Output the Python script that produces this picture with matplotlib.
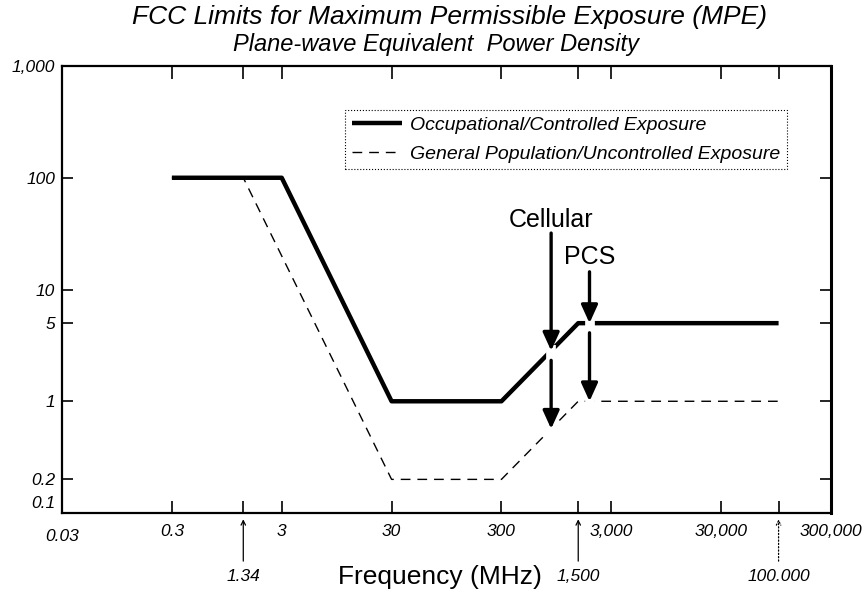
"""
FCC MPE limits, log-log chart -> out.png
"""

import numpy as np
import matplotlib
matplotlib.use("Agg")
import matplotlib.pyplot as plt
from matplotlib.transforms import ScaledTranslation

plt.rcParams['font.family'] = ['Liberation Sans', 'DejaVu Sans']

# frequency in MHz, power density in mW/cm^2
OCC_FREQ = [0.3, 3, 30, 300, 1500, 100000]
OCC_MPE  = [100, 100, 1, 1, 5, 5]
GEN_FREQ = [0.3, 1.34, 30, 300, 1500, 100000]
GEN_MPE  = [100, 100, 0.2, 0.2, 1, 1]

X_TICKS  = [0.03, 0.3, 3, 30, 300, 3000, 30000, 300000]
X_LABELS = ["0.03", "0.3", "3", "30", "300", "3,000", "30,000", "300,000"]
Y_TICKS  = [0.1, 0.2, 1, 5, 10, 100, 1000]
Y_LABELS = ["0.1", "0.2", "1", "5", "10", "100", "1,000"]

BREAK_FREQ   = [1.34, 1500, 100000]
BREAK_LABELS = ["1.34", "1,500", "100.000"]

BANDS     = ["Cellular", "PCS"]
BAND_FREQ = [850, 1900]


def at(freq, xs, ys):
    return 10 ** np.interp(np.log10(freq), np.log10(xs), np.log10(ys))


def main():
    fig = plt.figure(figsize=(8.65, 5.92), dpi=100)
    ax = fig.add_axes([0.0717, 0.1334, 0.889, 0.7551])
    ax.set_xscale("log"); ax.set_yscale("log")
    ax.set_xlim(0.03, 300000); ax.set_ylim(0.1, 1000)

    ax.plot(OCC_FREQ, OCC_MPE, color="black", lw=3.2, solid_capstyle="butt",
            label="Occupational/Controlled Exposure", zorder=2)
    ax.plot(GEN_FREQ, GEN_MPE, color="black", lw=1.0, dashes=(7, 5),
            label="General Population/Uncontrolled Exposure", zorder=2)

    ax.set_xticks(X_TICKS, X_LABELS)
    ax.set_xticks(BREAK_FREQ, [""] * len(BREAK_FREQ), minor=True)
    ax.set_yticks(Y_TICKS, Y_LABELS)
    ax.set_yticks([], minor=True)
    ax.tick_params(axis="both", which="both", direction="in", top=True, right=True,
                   length=9, width=1.2, labelsize=12.5)
    ax.tick_params(axis="x", which="both", pad=8)
    ax.tick_params(axis="y", pad=5, length=8)
    for lbl in ax.get_xticklabels() + ax.get_yticklabels():
        lbl.set_fontstyle("italic")
    for s in ax.spines.values():
        s.set_linewidth(1.6)
    ax.spines["right"].set_linewidth(2.2)

    # 0.1 sits a bit above the corner, 0.03 a bit below
    t = ax.yaxis.get_major_ticks()[0].label1
    t.set_transform(t.get_transform() + ScaledTranslation(0, 11 / 100, fig.dpi_scale_trans))
    t = ax.xaxis.get_major_ticks()[0].label1
    t.set_transform(t.get_transform() + ScaledTranslation(0, -5 / 100, fig.dpi_scale_trans))

    # break points marked under the axis
    xt = ax.get_xaxis_transform()
    for f, lbl in zip(BREAK_FREQ, BREAK_LABELS):
        ax.annotate(lbl, xy=(f, -0.014), xycoords=xt, xytext=(f, -0.143), textcoords=xt,
                    ha="center", va="center", fontsize=12.5, style="italic",
                    arrowprops=dict(arrowstyle="->", lw=0.9, color="black",
                                    shrinkA=4, shrinkB=0, mutation_scale=8,
                                    linestyle=":" if f == 100000 else "-"))

    # band arrows: Cellular / PCS
    text_y  = [42, 19.5]
    start_y = [32, 14.4]
    for name, f, ty, sy in zip(BANDS, BAND_FREQ, text_y, start_y):
        occ = at(f, OCC_FREQ, OCC_MPE)
        gen = at(f, GEN_FREQ, GEN_MPE)
        mid = occ * 0.82
        ax.text(f, ty, name, ha="center", va="center", fontsize=18)
        ax.plot([f, f], [occ * 1.12, mid], color="white", lw=7, solid_capstyle="butt", zorder=3)
        ax.plot([f, f], [gen * 1.15, gen * 0.85], color="white", lw=7, solid_capstyle="butt", zorder=3)
        ap = dict(arrowstyle="-|>,head_length=0.55,head_width=0.25", lw=2.4, color="black",
                  mutation_scale=20, shrinkA=0, shrinkB=0)
        ax.annotate("", xy=(f, occ), xytext=(f, sy), arrowprops=ap, zorder=4)
        ax.annotate("", xy=(f, gen), xytext=(f, mid), arrowprops=ap, zorder=4)

    leg = ax.legend(loc="upper left", bbox_to_anchor=(0.368, 0.902), borderaxespad=0,
                    prop={"style": "italic", "size": 14}, handlelength=2.6,
                    handletextpad=0.4, borderpad=0.35, labelspacing=0.55,
                    fancybox=False, framealpha=1, edgecolor="black")
    leg.get_frame().set_linestyle(":")
    leg.get_frame().set_linewidth(0.8)

    fig.text(450 / 865, 1 - 17 / 592, "FCC Limits for Maximum Permissible Exposure (MPE)",
             ha="center", va="center", fontsize=19, style="italic")
    fig.text(436 / 865, 1 - 44 / 592, "Plane-wave Equivalent  Power Density",
             ha="center", va="center", fontsize=17, style="italic")
    fig.text(440 / 865, 1 - 577 / 592, "Frequency (MHz)",
             ha="center", va="center", fontsize=19)

    fig.savefig("out.png", dpi=100)


if __name__ == "__main__":
    main()
